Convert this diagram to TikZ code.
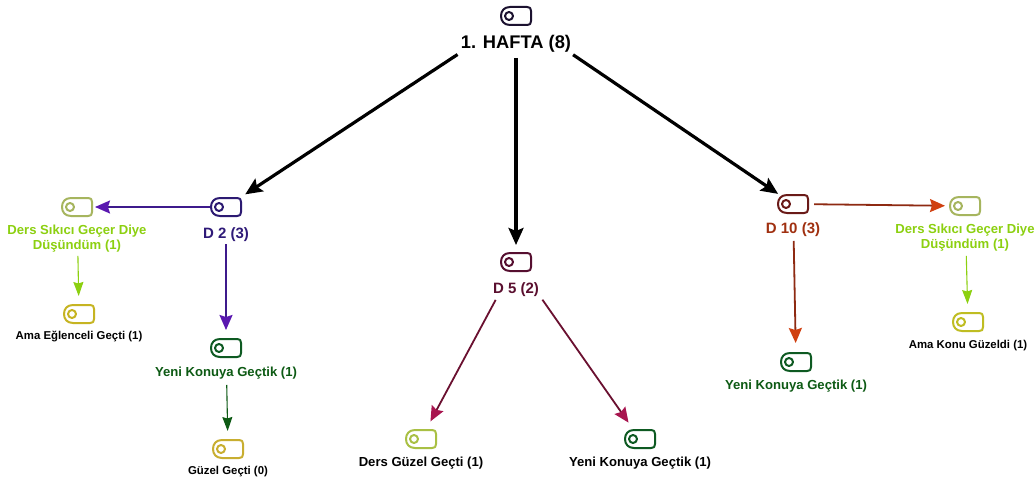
\documentclass[tikz,border=0pt]{standalone}
\usepackage{fontspec}
\setmainfont{Liberation Sans}
\usetikzlibrary{arrows.meta}
\definecolor{cRoot}{HTML}{1C1230}
\definecolor{cDtwo}{HTML}{2C1A72}
\definecolor{cDfive}{HTML}{560F30}
\definecolor{cDten}{HTML}{6A1A18}
\definecolor{cDersI}{HTML}{A6B55E}
\definecolor{cAma}{HTML}{C6B422}
\definecolor{cAmaK}{HTML}{BFBD22}
\definecolor{cYeni}{HTML}{0E5A22}
\definecolor{cGuzel}{HTML}{C8AE30}
\definecolor{cDG}{HTML}{A9C044}
\definecolor{tDtwo}{HTML}{2F1A78}
\definecolor{tDers}{HTML}{8CD010}
\definecolor{tDfive}{HTML}{5A0F2F}
\definecolor{tDten}{HTML}{A03010}
\definecolor{tYeni}{HTML}{0D5A14}
\definecolor{lPur}{HTML}{3E1A8C}
\definecolor{hPur}{HTML}{5A18B0}
\definecolor{lRed}{HTML}{8E2A12}
\definecolor{hRed}{HTML}{D04010}
\definecolor{lMag}{HTML}{6A1030}
\definecolor{hMag}{HTML}{A8154F}
\definecolor{lGrn}{HTML}{0D5A14}
\definecolor{lLime}{HTML}{8CD010}
\tikzset{
  x=1pt,y=-1pt,
  iconbox/.style={minimum width=30pt,minimum height=18pt,inner sep=0pt,outer sep=0pt},
  ttl/.style={font=\bfseries\fontsize{18.3}{21}\selectfont,text=black,align=center,inner sep=0pt},
  dlab/.style={font=\bfseries\fontsize{15}{18}\selectfont,align=center,inner sep=0pt},
  lab/.style={font=\bfseries\fontsize{13.1}{15}\selectfont,align=center,inner sep=0pt},
  small/.style={font=\bfseries\fontsize{11.4}{13}\selectfont,text=black,inner sep=0pt},
}
\newcommand{\iconnode}[3]{%
  \node[iconbox] (#1) at (#2) {};
  \begin{scope}[shift={(#2)},#3,line width=2pt,line join=round]
  \draw (-6,-9) -- (11,-9) .. controls (14,-9) and (15,-8) .. (15,-5) -- (15,5) .. controls (15,8) and (14,9) .. (11,9) -- (-6,9) .. controls (-12,9) and (-15,5) .. (-15,0) .. controls (-15,-5) and (-12,-9) .. (-6,-9) -- cycle;
  \draw (-7,0) circle[radius=4pt];
  \end{scope}
}
\begin{document}
\begin{tikzpicture}
\useasboundingbox (0,0) rectangle (1035,481);
\fill[white] (0,0) rectangle (1035,481);
% icons
\iconnode{root}{516,16}{cRoot}
\iconnode{dtwo}{226,207}{cDtwo}
\iconnode{dfive}{516,262}{cDfive}
\iconnode{dten}{793,204}{cDten}
\iconnode{dersL}{77,207}{cDersI}
\iconnode{amaL}{79,314}{cAma}
\iconnode{yeniA}{226,348}{cYeni}
\iconnode{guzel}{228,449}{cGuzel}
\iconnode{dersG}{421,439}{cDG}
\iconnode{yeniB}{640,439}{cYeni}
\iconnode{yeniC}{796,362}{cYeni}
\iconnode{dersR}{965,206}{cDersI}
\iconnode{amaR}{968,322}{cAmaK}
% labels
\node[ttl] (tRoot) at (516,44) {1. HAFTA (8)};
\node[dlab,text=tDtwo] (tDtwoN) at (226,235) {D 2 (3)};
\node[dlab,text=tDfive] (tDfiveN) at (516,290) {D 5 (2)};
\node[dlab,text=tDten] (tDtenN) at (793,230) {D 10 (3)};
\node[lab,text=tDers] (tDersL) at (77,239) {Ders Sıkıcı Geçer Diye\\Düşündüm (1)};
\node[lab,text=tDers] (tDersR) at (965,238) {Ders Sıkıcı Geçer Diye\\Düşündüm (1)};
\node[small] (tAmaL) at (79,337) {Ama Eğlenceli Geçti (1)};
\node[small] (tAmaR) at (968,346) {Ama Konu Güzeldi (1)};
\node[lab,text=tYeni] (tYeniA) at (226,373) {Yeni Konuya Geçtik (1)};
\node[lab,text=tYeni] (tYeniC) at (796,386) {Yeni Konuya Geçtik (1)};
\node[small] (tGuzel) at (228,472) {Güzel Geçti (0)};
\node[lab,text=black] (tDG) at (421,463) {Ders Güzel Geçti (1)};
\node[lab,text=black] (tYB) at (640,463) {Yeni Konuya Geçtik (1)};
% connectors
\tikzset{
  big/.style={line width=3.2pt,black,-{Stealth[length=17pt,width=15pt,inset=3pt]}},
  mid/.style={line width=1.8pt,draw=#1},
  thin/.style={line width=1.1pt,draw=#1},
}
\draw[big,shorten <=70pt,shorten >=23pt] (root.center) -- (dtwo.center);
\draw[big,shorten <=42pt,shorten >=17pt] (root.center) -- (dfive.center);
\draw[big,shorten <=69pt,shorten >=18pt] (root.center) -- (dten.center);
\draw[mid=lPur,-{Stealth[length=15pt,width=13pt,inset=2pt,color=hPur]},shorten <=16pt,shorten >=18pt] (dtwo.center) -- (dersL.center);
\draw[mid=lPur,-{Stealth[length=15pt,width=13pt,inset=2pt,color=hPur]},shorten <=37pt,shorten >=18pt] (dtwo.center) -- (yeniA.center);
\draw[mid=lRed,-{Stealth[length=15pt,width=13pt,inset=2pt,color=hRed]},shorten <=21pt,shorten >=20pt] (dten.center) -- (dersR.center);
\draw[mid=lRed,-{Stealth[length=15pt,width=13pt,inset=2pt,color=hRed]},shorten <=37pt,shorten >=19pt] (dten.center) -- (yeniC.center);
\draw[mid=lMag,-{Stealth[length=15pt,width=13pt,inset=2pt,color=hMag]},shorten <=43pt,shorten >=20pt] (dfive.center) -- (dersG.center);
\draw[mid=lMag,-{Stealth[length=15pt,width=13pt,inset=2pt,color=hMag]},shorten <=46pt,shorten >=20pt] (dfive.center) -- (yeniB.center);
\draw[thin=lLime,-{Stealth[length=14pt,width=10pt,inset=1.5pt]},shorten <=49pt,shorten >=18pt] (dersL.center) -- (amaL.center);
\draw[thin=lLime,-{Stealth[length=14pt,width=10pt,inset=1.5pt]},shorten <=50pt,shorten >=18pt] (dersR.center) -- (amaR.center);
\draw[thin=lGrn,-{Stealth[length=14pt,width=10pt,inset=1.5pt]},shorten <=37pt,shorten >=18pt] (yeniA.center) -- (guzel.center);
\end{tikzpicture}
\end{document}
